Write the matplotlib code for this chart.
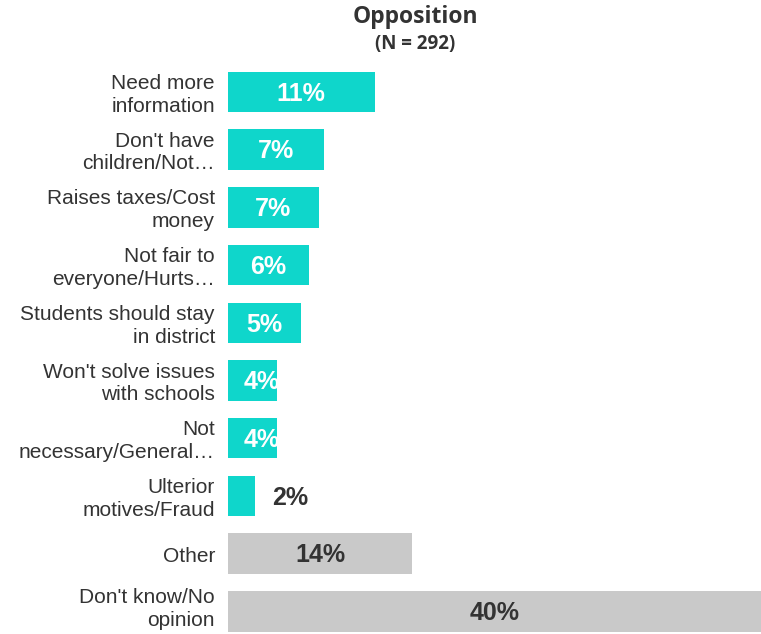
import matplotlib.pyplot as plt

categories = [
    "Need more\ninformation",
    "Don't have\nchildren/Not\u2026",
    "Raises taxes/Cost\nmoney",
    "Not fair to\neveryone/Hurts\u2026",
    "Students should stay\nin district",
    "Won't solve issues\nwith schools",
    "Not\nnecessary/General\u2026",
    "Ulterior\nmotives/Fraud",
    "Other",
    "Don't know/No\nopinion",
]
values = [11.0, 7.2, 6.8, 6.1, 5.5, 3.7, 3.7, 2.0, 13.8, 40.0]
labels = ["11%", "7%", "7%", "6%", "5%", "4%", "4%", "2%", "14%", "40%"]
is_other = [False] * 8 + [True, True]

teal = "#0fd6cb"
gray = "#c9c9c9"
dark = "#333333"

fig = plt.figure(figsize=(7.61, 6.34), dpi=100)
ax = fig.add_axes([228 / 761, 0, 533 / 761, 1])

colors = [gray if o else teal for o in is_other]
ypos = list(range(len(categories)))
ax.barh(ypos, values, height=0.7, color=colors)

ax.set_xlim(0, 40)
ax.set_ylim(9.393, -1.594)
ax.set_yticks([])
ax.set_xticks([])
for s in ax.spines.values():
    s.set_visible(False)

# category labels, the last one nudged up so it stays inside the picture
for i, cat in enumerate(categories):
    y = i - 0.04 if i == len(categories) - 1 else i + 0.05
    ax.text(-13 / 13.325, y, cat, ha="right", va="center", fontsize=15,
            color=dark, family="Liberation Sans", linespacing=1.25)

for i, (v, lab, o) in enumerate(zip(values, labels, is_other)):
    if v < 3:
        ax.text(v + 2.65, i + 0.03, lab, ha="center", va="center", fontsize=18,
                fontweight="bold", color=dark, family="Liberation Sans")
    else:
        ax.text(max(v / 2, 2.55), i + 0.03, lab, ha="center", va="center",
                fontsize=18, fontweight="bold", color=dark if o else "white",
                family="Liberation Sans", clip_on=True)

fig.text(415 / 761, 1 - 17 / 634, "Opposition", ha="center", va="center",
         fontsize=16.5, fontweight="bold", color=dark, family="Open Sans")
fig.text(415 / 761, 1 - 44 / 634, "(N = 292)", ha="center", va="center",
         fontsize=13.5, fontweight="bold", color=dark, family="Open Sans")

fig.savefig("out.png", dpi=100)
